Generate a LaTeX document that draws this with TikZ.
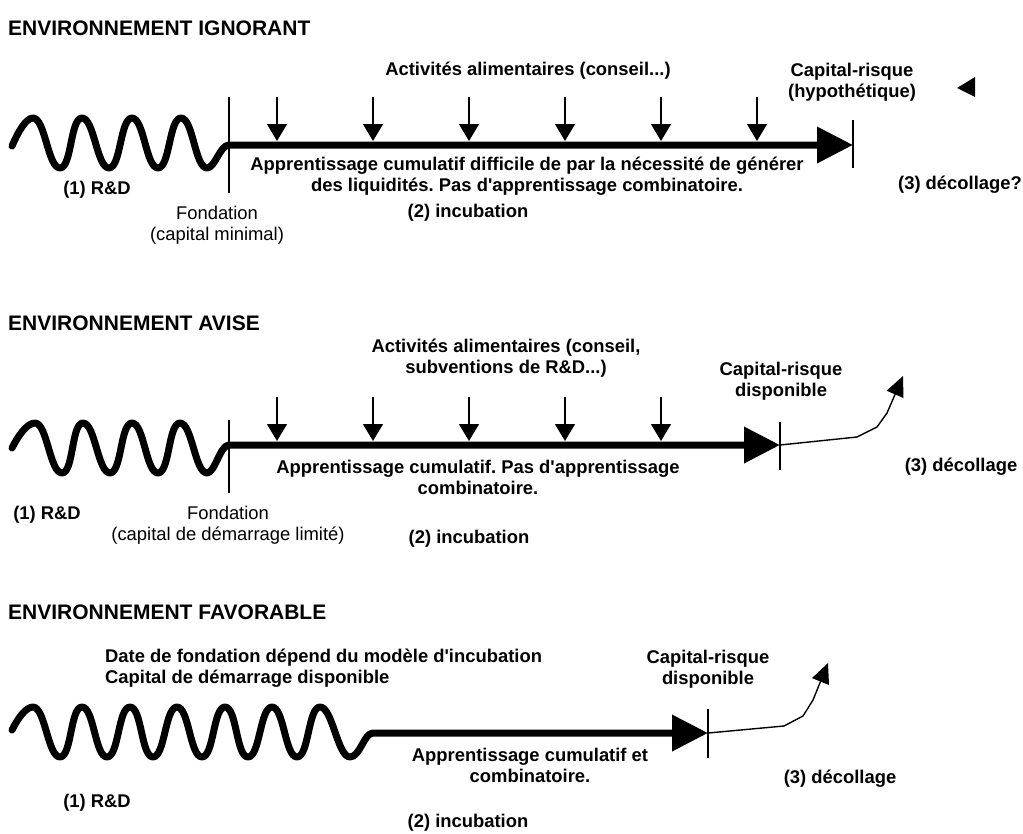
\documentclass[tikz,border=0pt]{standalone}
\usepackage{fontspec}
\setmainfont{Liberation Sans}
\usetikzlibrary{arrows.meta}
\newcommand{\ap}{\textquotesingle}
\begin{document}
\frenchspacing
\begin{tikzpicture}[x=1pt,y=-1pt,
  txt/.style={inner sep=0pt, align=center, font=\bfseries\fontsize{18.4}{21}\selectfont},
  ntxt/.style={inner sep=0pt, align=center, font=\fontsize{18.4}{21}\selectfont},
  ttl/.style={inner sep=0pt, anchor=west, font=\bfseries\fontsize{21}{24}\selectfont},
  mainarrow/.style={line width=7pt, line cap=round, line join=round, -{Triangle[length=36pt,width=35pt]}},
  drop/.style={line width=1.2pt, -{Triangle[length=17pt,width=20pt]}},
  tickline/.style={line width=1.4pt},
  rise/.style={line width=1.4pt, line join=round, -{Triangle[length=20pt,width=18pt]}},
  wv/.style={out=0,in=180,looseness=0.55},
]
\useasboundingbox (0,0) rectangle (1023,833);

% ---------------- Panel 1 ----------------
\node[ttl] (t1) at (8,28) {ENVIRONNEMENT IGNORANT};
\coordinate (w1) at (12,146);
\coordinate (f1) at (229,145);
\coordinate (e1) at (853,145);
\draw[mainarrow] (w1) .. controls (18,132) and (26,118) .. (33,118)
  to[wv] (60,168) to[wv] (82,118) to[wv] (109,168) to[wv] (132,118)
  to[wv] (158,168) to[wv] (181,118) to[wv] (207,168)
  .. controls (215,168) and (220,145) .. (f1) -- (e1);
\coordinate (f1a) at (229,97); \coordinate (f1b) at (229,193);
\draw[tickline] (f1a) -- (f1b);
\coordinate (e1a) at (853,120); \coordinate (e1b) at (853,168);
\draw[tickline] (e1a) -- (e1b);
\foreach \i/\x in {1/277,2/373,3/469,4/565,5/661,6/757}{
  \coordinate (d1s\i) at (\x,97);
  \coordinate (d1e\i) at (\x,141);
  \draw[drop] (d1s\i) -- (d1e\i);
}
\node[txt] (act1) at (528,71) {Activités alimentaires (conseil...)};
\node[txt] (cr1) at (852,82) {Capital-risque\\(hypothétique)};
\fill (957,88) -- (975,77) -- (975,97) -- cycle;
\node[txt] (ap1) at (527,176) {Apprentissage cumulatif difficile de par la nécessité de générer\\des liquidités. Pas d\ap apprentissage combinatoire.};
\node[txt] (rd1) at (97,190) {(1) R\&D};
\node[ntxt] (fo1) at (217,225) {Fondation\\(capital minimal)};
\node[txt] (inc1) at (468,213) {(2) incubation};
\node[txt] (dec1) at (960,185) {(3) décollage?};

% ---------------- Panel 2 ----------------
\node[ttl] (t2) at (8,323) {ENVIRONNEMENT AVISE};
\coordinate (w2) at (12,448);
\coordinate (f2) at (229,445);
\coordinate (e2) at (780,445);
\draw[mainarrow] (w2) .. controls (18,436) and (27,423) .. (35,423)
  to[wv] (62,473) to[wv] (83,423) to[wv] (110,473) to[wv] (132,423)
  to[wv] (158,473) to[wv] (180,423) to[wv] (207,473)
  .. controls (215,473) and (220,445) .. (f2) -- (e2);
\coordinate (f2a) at (229,420); \coordinate (f2b) at (229,493);
\draw[tickline] (f2a) -- (f2b);
\coordinate (e2a) at (780,422); \coordinate (e2b) at (780,470);
\draw[tickline] (e2a) -- (e2b);
\foreach \i/\x in {1/277,2/373,3/469,4/565,5/661}{
  \coordinate (d2s\i) at (\x,397);
  \coordinate (d2e\i) at (\x,441);
  \draw[drop] (d2s\i) -- (d2e\i);
}
\coordinate (r2) at (903,376);
\draw[rise] (e2) -- (857,437) -- (877,427) -- (887,413) -- (r2);
\node[txt] (act2) at (506,358) {Activités alimentaires (conseil,\\subventions de R\&D...)};
\node[txt] (cr2) at (781,381) {Capital-risque\\disponible};
\node[txt] (ap2) at (478,477) {Apprentissage cumulatif. Pas d\ap apprentissage\\combinatoire.};
\node[txt] (rd2) at (47,515) {(1) R\&D};
\node[ntxt] (fo2) at (228,525) {Fondation\\(capital de démarrage limité)};
\node[txt] (inc2) at (469,539) {(2) incubation};
\node[txt] (dec2) at (961,467) {(3) décollage};

% ---------------- Panel 3 ----------------
\node[ttl] (t3) at (8,612) {ENVIRONNEMENT FAVORABLE};
\coordinate (w3) at (12,730);
\coordinate (f3) at (373,733);
\coordinate (e3) at (708,733);
\draw[mainarrow] (w3) .. controls (18,718) and (26,707) .. (33,707)
  to[wv] (60,757) to[wv] (82,707) to[wv] (107,757) to[wv] (130,707)
  to[wv] (153,757) to[wv] (177,707) to[wv] (202,757) to[wv] (225,707)
  to[wv] (248,757) to[wv] (272,707) to[wv] (297,757) to[wv] (320,707)
  to[wv] (350,757)
  .. controls (360,757) and (364,733) .. (f3) -- (e3);
\coordinate (e3a) at (708,709); \coordinate (e3b) at (708,758);
\draw[tickline] (e3a) -- (e3b);
\coordinate (r3) at (828,663);
\draw[rise] (e3) -- (784,726) -- (803,716) -- (813,700) -- (r3);
\node[txt, anchor=west, align=left] (dt3) at (105,668) {Date de fondation dépend du modèle d\ap incubation\\Capital de démarrage disponible};
\node[txt] (cr3) at (708,669) {Capital-risque\\disponible};
\node[txt] (ap3) at (530,765) {Apprentissage cumulatif et\\combinatoire.};
\node[txt] (rd3) at (97,803) {(1) R\&D};
\node[txt] (inc3) at (468,823) {(2) incubation};
\node[txt] (dec3) at (840,779) {(3) décollage};
\end{tikzpicture}
\end{document}
